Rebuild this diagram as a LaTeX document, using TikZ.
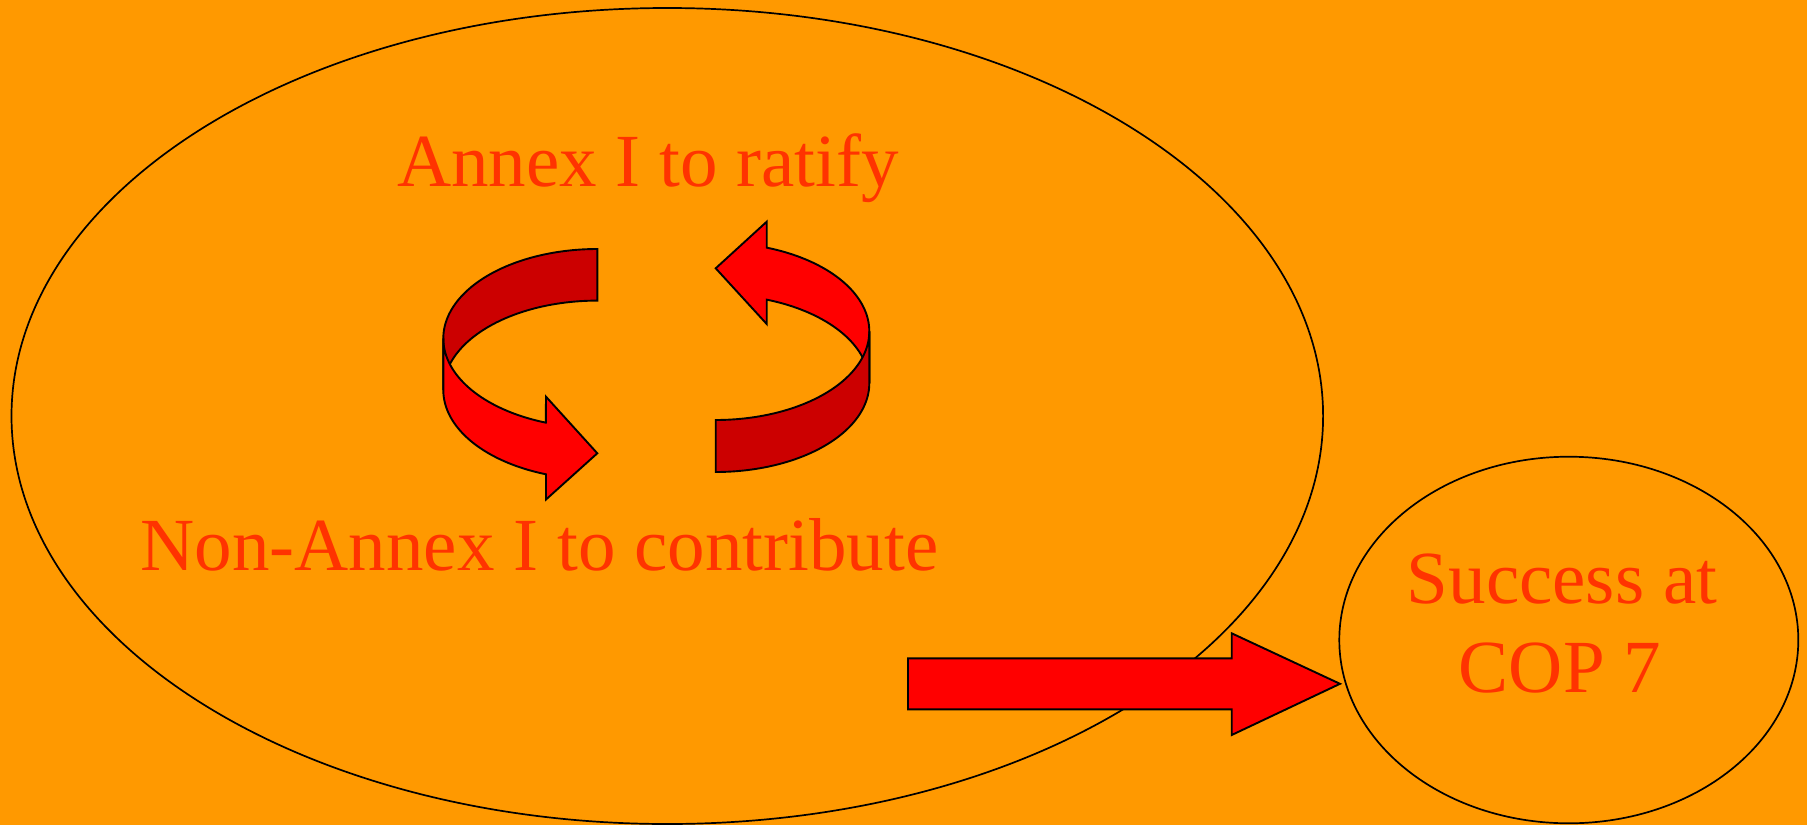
\documentclass[tikz,border=0pt]{standalone}
\usepackage{fontspec}
\setmainfont{Liberation Serif}
\usetikzlibrary{shapes.geometric}
\definecolor{bg}{HTML}{FF9900}
\definecolor{txt}{HTML}{FF3300}
\definecolor{brightred}{HTML}{FF0000}
\definecolor{darkred}{HTML}{CC0000}
\begin{document}
\begin{tikzpicture}[x=1pt,y=-1pt,
  labeltext/.style={text=txt, font=\fontsize{75}{90}\selectfont, inner sep=0pt, anchor=base},
  ring/.style={draw=black, line width=1.7pt, ellipse, inner sep=0pt, outer sep=0pt},
  ribbon/.style={draw=black, line width=1.9pt, line join=miter},
]
\fill[bg] (0,0) rectangle (1807,825);
\useasboundingbox (0,0) rectangle (1807,825);

% ellipses
\node[ring, minimum width=1311.6pt, minimum height=816pt] (scopering) at (667.3,416) {};
\node[ring, minimum width=459pt, minimum height=366.6pt] (successring) at (1568.8,640) {};

% texts
\node[labeltext] (annexI) at (648,186.7) {Annex I to ratify};
\node[labeltext] (nonannex) at (539.5,570.7) {Non-Annex I to contribute};
\node[labeltext] (succA) at (1562,603.3) {Success at};
\node[labeltext] (succB) at (1560,692.7) {COP 7};

% left circular arrow: back (dark) band
\filldraw[ribbon, fill=darkred]
  plot[domain=90:180, samples=60] ({597.3+154*cos(\x)}, {338.4-89.4*sin(\x)})
  -- plot[domain=180:90, samples=60] ({597.3+154*cos(\x)}, {390-89.4*sin(\x)})
  -- cycle;
% left circular arrow: front (bright) band with head
\filldraw[ribbon, fill=brightred]
  plot[domain=180:250.46, samples=60] ({597.3+154*cos(\x)}, {338.4-89.4*sin(\x)})
  -- (546,396.7) -- (597.3,453.3) -- (546,499.5) -- (546,474.3)
  -- plot[domain=250.46:180, samples=60] ({597.3+154*cos(\x)}, {390-89.4*sin(\x)})
  -- cycle;

% right circular arrow: back (bright) band with head
\filldraw[ribbon, fill=brightred]
  plot[domain=70.6:0, samples=60] ({715.7+153.6*cos(\x)}, {331.3-88.7*sin(\x)})
  -- plot[domain=0:70.6, samples=60] ({715.7+153.6*cos(\x)}, {383.3-88.7*sin(\x)})
  -- (766.7,324) -- (715.7,268.3) -- (766.7,221.7) -- cycle;
% right circular arrow: front (dark) band
\filldraw[ribbon, fill=darkred]
  plot[domain=0:-90, samples=60] ({715.7+153.6*cos(\x)}, {331.3-88.7*sin(\x)})
  -- plot[domain=-90:0, samples=60] ({715.7+153.6*cos(\x)}, {383.3-88.7*sin(\x)})
  -- cycle;

% big block arrow
\coordinate (bigtail) at (908,683.8);
\coordinate (bigtip) at (1340,683.8);
\filldraw[ribbon, fill=brightred]
  (bigtail |- 0,658.3) -- (1231.7,658.3) -- (1231.7,633.3) -- (bigtip)
  -- (1231.7,735) -- (1231.7,709.3) -- (bigtail |- 0,709.3) -- cycle;
\end{tikzpicture}
\end{document}
